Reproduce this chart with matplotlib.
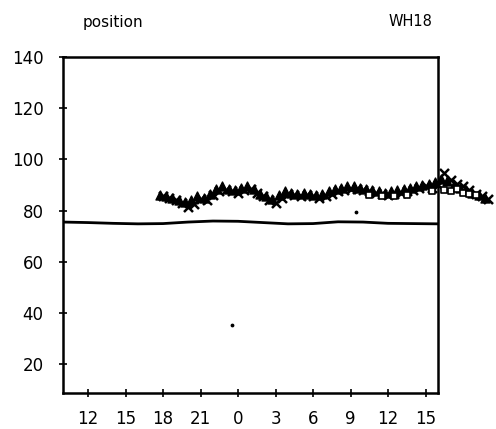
import numpy as np
import matplotlib
matplotlib.use("Agg")
import matplotlib.pyplot as plt

# hours counted continuously from noon of day one (24 = midnight)
hours = np.arange(17.75, 44.25, 0.5)
# triangle series
tri_vals = [86, 85.5, 85, 84, 83.5, 84, 85.5, 85, 86.5, 88.5, 89.5, 88.5, 88,
            89, 89.5, 88.5, 86.5, 85.5, 84.5, 86, 87.5, 87, 86.5, 87, 86.5, 86,
            86.5, 87.5, 88.5, 89, 89.5, 89.5, 89, 88.5, 88, 87.5, 87, 87.5,
            88, 88.5, 89, 89.5, 90, 90.5, 91, 92.5, 91.5, 90, 89, 88, 87, 86, 85]
# cross series
x_vals = [85.5, 85, 84, 83, 81.5, 82.5, 84.5, 84, 86, 87.5, 88, 87.5, 87,
          88, 88.5, 87, 85.5, 84, 83, 85, 86.5, 86, 85.5, 86, 85.5, 85,
          85.5, 86.5, 87.5, 88, 88.5, 88.5, 88, 87.5, 87, 86.5, 86, 86.5,
          87, 87.5, 88, 89, 89.5, 89, 90, 94.5, 92, 90.5, 89.5, 88, 86.5, 85.5, 84.5]
# open squares near the end
sq_hours = [34.5, 35.5, 36.5, 37.5, 39.5, 40.5, 41.0, 41.5, 42.0, 42.5, 43.0]
sq_vals = [86, 85.5, 85.5, 86, 87.5, 88, 87.5, 88.5, 87, 86.5, 86]
# stray dots
stray_hours = [23.5, 33.4]
stray_vals = [35.3, 79.5]

# reference line
line_hours = [10, 12, 14, 16, 18, 20, 22, 24, 26, 28, 30, 32, 34, 36, 38, 40]
line_vals = [75.5, 75.3, 75.0, 74.8, 74.9, 75.5, 75.9, 75.8, 75.3, 74.8, 74.9,
             75.6, 75.5, 75.0, 74.9, 74.8]

xticks = [12, 15, 18, 21, 24, 27, 30, 33, 36, 39]
xlabels = ["12", "15", "18", "21", "0", "3", "6", "9", "12", "15"]
yticks = [20, 40, 60, 80, 100, 120, 140]

fig = plt.figure(figsize=(4.96, 4.29), dpi=100)
ax = fig.add_axes([63 / 496, 1 - 393 / 429, 375 / 496, 336 / 429])

ax.plot(line_hours, line_vals, color="black", lw=2)
ax.scatter(hours, tri_vals, marker="^", s=42, color="black", clip_on=False, zorder=3)
ax.scatter(hours + 0.25, x_vals, marker="x", s=42, color="black", lw=1.8,
           clip_on=False, zorder=3)
ax.scatter(sq_hours, sq_vals, marker="s", s=20, facecolor="white",
           edgecolor="black", lw=1.2, clip_on=False, zorder=4)
ax.scatter(stray_hours, stray_vals, marker="o", s=3, color="black", zorder=3)

ax.set_xlim(10, 40)
ax.set_ylim(8.7, 140)
ax.set_xticks(xticks)
ax.set_xticklabels(xlabels)
ax.set_yticks(yticks)
for s in ax.spines.values():
    s.set_linewidth(1.8)
ax.tick_params(direction="inout", length=6, width=1.2, labelsize=12)
ax.tick_params(axis="y", pad=11)
ax.tick_params(axis="x", pad=9)

fig.text(83 / 496, 1 - 22 / 429, "position", fontsize=11, va="center", ha="left")
fig.text(432 / 496, 1 - 22 / 429, "WH18", fontsize=10.5, va="center", ha="right")

fig.savefig("out.png", dpi=100)
